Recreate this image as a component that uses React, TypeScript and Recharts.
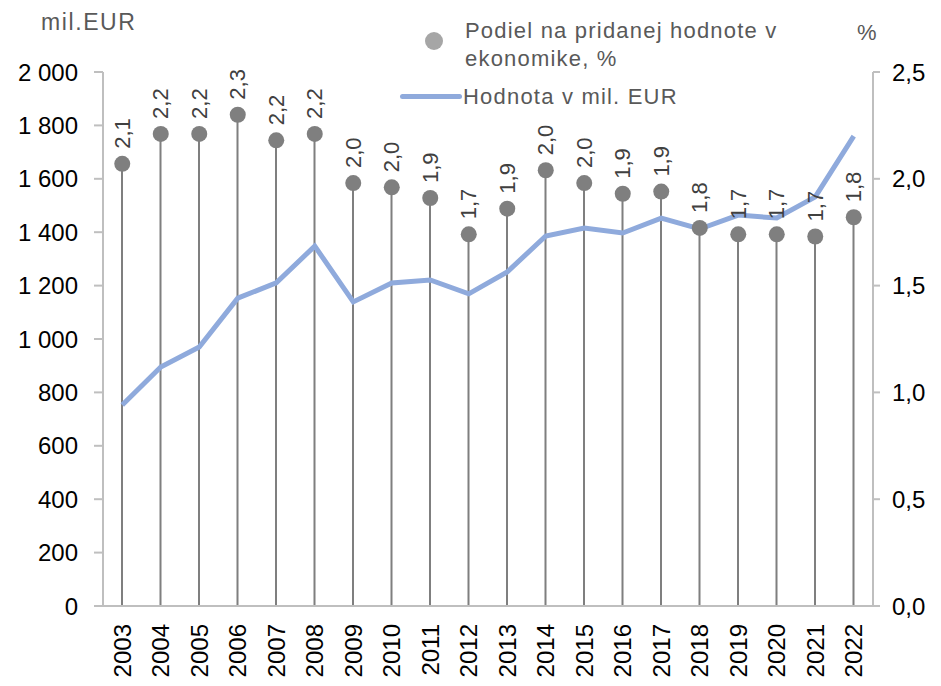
import React from 'react';
import { ComposedChart, Bar, Line, XAxis, YAxis } from 'recharts';

const years = ['2003', '2004', '2005', '2006', '2007', '2008', '2009', '2010', '2011', '2012', '2013', '2014', '2015', '2016', '2017', '2018', '2019', '2020', '2021', '2022'];
// hodnota v mil. EUR (ľavá os)
const hodnota = [753, 895, 970, 1153, 1210, 1348, 1139, 1210, 1221, 1169, 1251, 1386, 1416, 1397, 1453, 1412, 1464, 1453, 1532, 1760];
// podiel na pridanej hodnote v ekonomike, % (pravá os)
const podiel = [2.07, 2.21, 2.21, 2.3, 2.18, 2.21, 1.98, 1.96, 1.91, 1.74, 1.86, 2.04, 1.98, 1.93, 1.94, 1.77, 1.74, 1.74, 1.73, 1.82];

const leftTicks = [0, 200, 400, 600, 800, 1000, 1200, 1400, 1600, 1800, 2000];
const rightTicks = [0, 0.5, 1, 1.5, 2, 2.5];

const data = years.map((y, i) => ({ rok: y, hodnota: hodnota[i], podiel: podiel[i] }));

const FONT = '"Liberation Sans", Arial, sans-serif';
const grey = '#7f7f7f';
const blue = '#8faadc';
const axisGrey = '#bfbfbf';
const textGrey = '#595959';

const fmtComma = (v: number, d: number) => v.toFixed(d).replace('.', ',');

const YearTick = (props: any) => {
  const { x, y, payload } = props;
  const ty = y + 10;
  return (
    <text
      x={x}
      y={ty}
      transform={`rotate(-90, ${x}, ${ty})`}
      textAnchor="end"
      dominantBaseline="central"
      fontSize={24}
      fontFamily={FONT}
      fill="#000"
    >
      {payload.value}
    </text>
  );
};

const DotLabel = (props: any) => {
  const { x, y, value } = props;
  const ly = y - 15;
  return (
    <text
      x={x}
      y={ly}
      transform={`rotate(-90, ${x}, ${ly})`}
      textAnchor="start"
      dominantBaseline="central"
      fontSize={22}
      fontFamily={FONT}
      fill="#404040"
    >
      {fmtComma(value, 1)}
    </text>
  );
};

const PodielDot = (props: any) => {
  const { cx, cy, index } = props;
  return <circle key={`d-${index}`} cx={cx} cy={cy} r={8} fill={grey} />;
};

export default function App() {
  const txt: React.CSSProperties = { position: 'absolute', fontFamily: FONT, fontSize: 22, color: textGrey, lineHeight: '28px', whiteSpace: 'nowrap' };
  return (
    <div style={{ position: 'absolute', left: 0, top: 0, width: 941, height: 686, background: '#fff' }}>
      <ComposedChart width={941} height={686} data={data} margin={{ top: 72, right: 0, bottom: 0, left: 0 }}>
        <XAxis
          dataKey="rok"
          height={80}
          interval={0}
          tickLine={false}
          axisLine={{ stroke: axisGrey, strokeWidth: 2 }}
          tick={<YearTick />}
        />
        <YAxis
          yAxisId="left"
          width={103}
          domain={[0, 2000]}
          ticks={leftTicks}
          interval={0}
          tickSize={9}
          tickMargin={16}
          tickLine={{ stroke: axisGrey, strokeWidth: 2 }}
          axisLine={{ stroke: axisGrey, strokeWidth: 2 }}
          tickFormatter={(v: number) => (v >= 1000 ? `${Math.floor(v / 1000)} ${String(v % 1000).padStart(3, '0')}` : String(v))}
          tick={{ fontSize: 24, fill: '#000', fontFamily: FONT }}
        />
        <YAxis
          yAxisId="right"
          orientation="right"
          width={68}
          domain={[0, 2.5]}
          ticks={rightTicks}
          interval={0}
          tickSize={7}
          tickMargin={12}
          tickLine={{ stroke: axisGrey, strokeWidth: 2 }}
          axisLine={{ stroke: axisGrey, strokeWidth: 2 }}
          tickFormatter={(v: number) => fmtComma(v, 1)}
          tick={{ fontSize: 24, fill: '#000', fontFamily: FONT, textAnchor: 'start' }}
        />
        <Bar yAxisId="right" dataKey="podiel" barSize={2} fill={grey} isAnimationActive={false} legendType="none" />
        <Line
          yAxisId="right"
          dataKey="podiel"
          stroke="none"
          dot={<PodielDot />}
          activeDot={false}
          label={<DotLabel />}
          isAnimationActive={false}
        />
        <Line
          yAxisId="left"
          dataKey="hodnota"
          stroke={blue}
          strokeWidth={5}
          dot={false}
          activeDot={false}
          isAnimationActive={false}
        />
      </ComposedChart>

      {/* popisy osí */}
      <div style={{ ...txt, left: 41, top: 8, fontSize: 23, letterSpacing: 1.6 }}>mil.EUR</div>
      <div style={{ ...txt, left: 857, top: 19 }}>%</div>

      {/* legenda */}
      <div style={{ position: 'absolute', left: 425, top: 32, width: 18, height: 18, borderRadius: '50%', background: '#a6a6a6' }} />
      <div style={{ ...txt, left: 465, top: 17, letterSpacing: 1.2 }}>
        Podiel na pridanej hodnote v
        <br />
        ekonomike, %
      </div>
      <div style={{ position: 'absolute', left: 400, top: 94, width: 62, height: 5, borderRadius: 3, background: blue }} />
      <div style={{ ...txt, left: 463, top: 83, letterSpacing: 1.2 }}>Hodnota v mil. EUR</div>
    </div>
  );
}
